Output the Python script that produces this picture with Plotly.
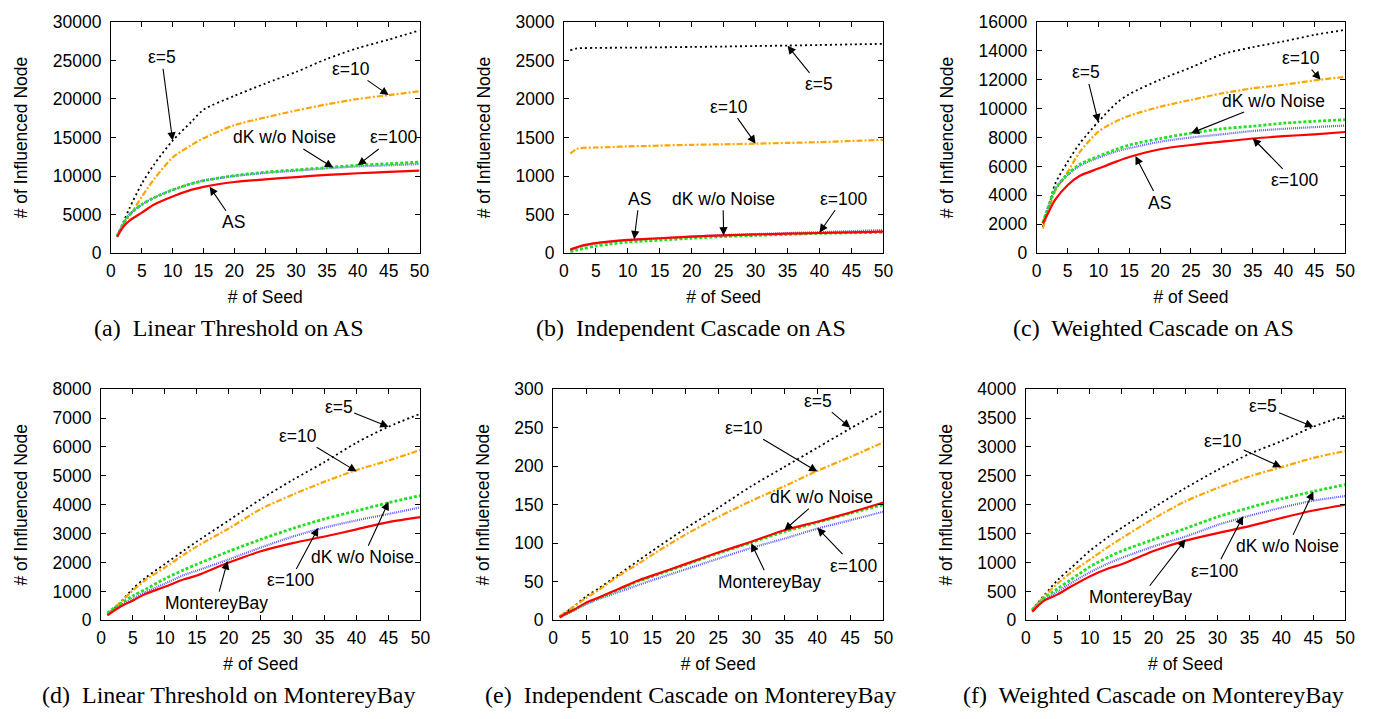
import plotly.graph_objects as go

# page is 1388x719; the html body keeps its default 8px margin,
# so the figure itself is 16px smaller and every page pixel is offset by 8.
PAGE_W, PAGE_H, OFF = 1388, 719, 8
W, H = PAGE_W - 2 * OFF, PAGE_H - 2 * OFF

# ---------------- data ----------------
SEEDS = [1, 2, 3, 5, 7, 10, 13, 15, 20, 25, 30, 35, 40, 45, 50]
X_TICKS = [0, 5, 10, 15, 20, 25, 30, 35, 40, 45, 50]

# (a) Linear Threshold on AS
LT_AS_EPS5 = [2200, 4000, 5800, 9000, 11500, 14600, 17000, 18600, 20400, 22000, 23500, 25200, 26600, 27700, 28900]
LT_AS_EPS10 = [2200, 3700, 4800, 7300, 9600, 12400, 14000, 14900, 16600, 17600, 18500, 19300, 20000, 20500, 21000]
LT_AS_EPS100 = [2200, 3800, 5000, 6300, 7200, 8200, 9000, 9400, 10000, 10400, 10700, 11000, 11250, 11400, 11550]
LT_AS_DK = [2200, 3800, 5000, 6300, 7200, 8200, 9000, 9400, 10050, 10500, 10800, 11100, 11400, 11600, 11800]
LT_AS_ORIG = [2100, 3400, 4200, 5250, 6300, 7350, 8200, 8600, 9230, 9570, 9860, 10150, 10360, 10530, 10700]

# (b) Independent Cascade on AS
IC_AS_EPS5 = [2630, 2655, 2660, 2662, 2664, 2666, 2668, 2670, 2675, 2680, 2687, 2693, 2700, 2708, 2715]
IC_AS_EPS10 = [1290, 1350, 1365, 1370, 1375, 1385, 1390, 1395, 1405, 1412, 1420, 1430, 1440, 1455, 1470]
IC_AS_EPS100 = [40, 70, 95, 125, 145, 168, 182, 192, 215, 233, 247, 260, 272, 285, 300]
IC_AS_DK = [20, 40, 60, 92, 115, 143, 158, 168, 193, 215, 230, 243, 256, 263, 270]
IC_AS_ORIG = [45, 75, 100, 130, 150, 172, 185, 193, 214, 231, 242, 252, 261, 270, 278]

# (c) Weighted Cascade on AS
WC_AS_EPS5 = [1800, 3300, 4800, 6300, 7600, 9100, 10400, 11000, 12000, 12850, 13750, 14250, 14650, 15100, 15450]
WC_AS_EPS10 = [1700, 3100, 4300, 5600, 7000, 8400, 9150, 9500, 10130, 10600, 11050, 11400, 11650, 11950, 12200]
WC_AS_EPS100 = [2100, 3350, 4450, 5400, 6050, 6600, 7050, 7260, 7710, 8000, 8220, 8450, 8600, 8720, 8830]
WC_AS_DK = [2100, 3350, 4450, 5450, 6150, 6700, 7200, 7480, 7930, 8300, 8600, 8780, 8990, 9120, 9230]
WC_AS_ORIG = [2050, 2900, 3700, 4700, 5350, 5850, 6350, 6650, 7190, 7480, 7710, 7930, 8090, 8220, 8380]

# (d) Linear Threshold on MontereyBay
LT_MB_EPS5 = [200, 400, 620, 1100, 1480, 1950, 2420, 2730, 3460, 4190, 4860, 5480, 6150, 6700, 7150]
LT_MB_EPS10 = [200, 400, 610, 1040, 1400, 1830, 2280, 2560, 3180, 3850, 4350, 4800, 5200, 5530, 5900]
LT_MB_EPS100 = [220, 380, 520, 760, 980, 1270, 1570, 1720, 2110, 2520, 2900, 3210, 3460, 3680, 3910]
LT_MB_DK = [250, 420, 570, 850, 1080, 1440, 1750, 1940, 2390, 2800, 3180, 3510, 3790, 4070, 4320]
LT_MB_ORIG = [170, 330, 470, 690, 920, 1160, 1420, 1550, 2000, 2390, 2670, 2900, 3150, 3400, 3570]

# (e) Independent Cascade on MontereyBay
IC_MB_EPS5 = [5, 11, 17, 31, 42, 60, 78, 90, 119, 146, 174, 199, 224, 249, 273]
IC_MB_EPS10 = [5, 11, 17, 29, 40, 58, 74, 85, 111, 134, 155, 174, 194, 212, 231]
IC_MB_EPS100 = [4, 8, 12, 21, 28, 37, 46, 52, 66, 80, 94, 106, 119, 130, 141]
IC_MB_DK = [4, 9, 13, 22, 29, 40, 51, 57, 72, 87, 101, 115, 127, 139, 150]
IC_MB_ORIG = [4, 9, 13, 23, 30, 41, 52, 58, 73, 88, 102, 117, 128, 140, 153]

# (f) Weighted Cascade on MontereyBay
WC_MB_EPS5 = [180, 320, 450, 700, 900, 1200, 1450, 1600, 1950, 2290, 2600, 2880, 3100, 3350, 3540]
WC_MB_EPS10 = [180, 310, 430, 640, 820, 1050, 1280, 1420, 1760, 2060, 2290, 2490, 2650, 2810, 2930]
WC_MB_EPS100 = [170, 280, 370, 495, 640, 830, 990, 1080, 1280, 1450, 1650, 1810, 1950, 2070, 2150]
WC_MB_DK = [180, 300, 400, 550, 700, 925, 1100, 1200, 1400, 1590, 1790, 1950, 2100, 2230, 2350]
WC_MB_ORIG = [150, 260, 350, 450, 580, 760, 900, 970, 1200, 1380, 1510, 1630, 1770, 1900, 2000]

CAPTIONS = [
    "(a)  Linear Threshold on AS",
    "(b)  Independent Cascade on AS",
    "(c)  Weighted Cascade on AS",
    "(d)  Linear Threshold on MontereyBay",
    "(e)  Independent Cascade on MontereyBay",
    "(f)  Weighted Cascade on MontereyBay",
]
NETWORKS = ["AS", "AS", "AS", "MontereyBay", "MontereyBay", "MontereyBay"]
Y_MAX = [30000, 3000, 16000, 8000, 300, 4000]
Y_STEP = [5000, 500, 2000, 1000, 50, 500]

PANELS = [
    [LT_AS_EPS5, LT_AS_EPS10, LT_AS_EPS100, LT_AS_DK, LT_AS_ORIG],
    [IC_AS_EPS5, IC_AS_EPS10, IC_AS_EPS100, IC_AS_DK, IC_AS_ORIG],
    [WC_AS_EPS5, WC_AS_EPS10, WC_AS_EPS100, WC_AS_DK, WC_AS_ORIG],
    [LT_MB_EPS5, LT_MB_EPS10, LT_MB_EPS100, LT_MB_DK, LT_MB_ORIG],
    [IC_MB_EPS5, IC_MB_EPS10, IC_MB_EPS100, IC_MB_DK, IC_MB_ORIG],
    [WC_MB_EPS5, WC_MB_EPS10, WC_MB_EPS100, WC_MB_DK, WC_MB_ORIG],
]

# label annotations: (text, tip_x, tip_y, text_x, text_y)
LABELS = [
    [("ε=5", 10, 14600, 8.2, 25400), ("ε=10", 45, 20500, 38.9, 23900),
     ("dK w/o Noise", 36, 11100, 28.2, 15000), ("ε=100", 40, 11400, 45.8, 15000),
     ("AS", 16, 8600, 19.9, 4000)],
    [("ε=5", 35, 2690, 39.9, 2190), ("ε=10", 30, 1420, 25.9, 1900),
     ("AS", 11, 180, 11.8, 706), ("dK w/o Noise", 25, 230, 24.9, 706),
     ("ε=100", 40, 268, 43.7, 706)],
    [("ε=5", 10, 9050, 8.0, 12500), ("ε=10", 46, 12000, 42.9, 13500),
     ("dK w/o Noise", 25, 8300, 38.3, 10560), ("ε=100", 35, 7950, 41.7, 5040),
     ("AS", 16, 6720, 19.9, 3500)],
    [("ε=5", 45, 6700, 37.2, 7390), ("ε=10", 40, 5150, 30.8, 6390),
     ("dK w/o Noise", 45, 4100, 41.0, 2180), ("ε=100", 34, 3200, 29.6, 1380),
     ("MontereyBay", 19.8, 2050, 18.0, 600)],
    [("ε=5", 45, 250, 40.1, 285), ("ε=10", 40, 193, 28.9, 250),
     ("dK w/o Noise", 35, 117, 40.7, 160), ("ε=100", 40, 120, 45.5, 71),
     ("MontereyBay", 30, 100, 32.8, 50)],
    [("ε=5", 45, 3350, 37.2, 3700), ("ε=10", 40, 2650, 30.9, 3110),
     ("dK w/o Noise", 45, 2230, 41.0, 1280), ("ε=100", 34, 1800, 29.6, 860),
     ("MontereyBay", 25, 1400, 18.0, 400)],
]

# ---------------- styles / geometry ----------------
SERIES_STYLE = [
    dict(color="black", width=1.8, dash="2px,3px"),
    dict(color="#FFA500", width=2.2, dash="6px,2px,2px,2px"),
    dict(color="#5a5aff", width=2.2, dash="1px,1px"),
    dict(color="#22e022", width=2.8, dash="3px,2px"),
    dict(color="#ff0000", width=2.2),
]
# plot boxes in page pixels: (left, right, top, bottom)
BOXES = [
    (107, 419, 12, 250), (565, 888, 12, 250), (1043, 1355, 12, 250),
    (97, 420, 390, 628), (554, 888, 390, 628), (1032, 1355, 390, 628),
]
CAPTION_POS = [(226, 327), (693, 327), (1161, 327), (226, 705), (693, 705), (1161, 705)]


def px_x(p):
    return (p - OFF) / W


def px_y(p):
    return 1 - (p - OFF) / H


SANS = "Liberation Sans, Arial, sans-serif"
SERIF = "Liberation Serif, Times New Roman, serif"
FS = 17.5

fig = go.Figure()
annotations = []
layout = {}

for i, series in enumerate(PANELS):
    n = "" if i == 0 else str(i + 1)
    xa, ya = "x" + n, "y" + n
    l, r, t, b = BOXES[i]
    names = ["ε=5", "ε=10", "ε=100", "dK w/o Noise", NETWORKS[i]]
    for k, vals in enumerate(series):
        fig.add_trace(go.Scatter(
            x=SEEDS, y=vals, mode="lines", name=names[k],
            line=dict(shape="spline", smoothing=0.8, **SERIES_STYLE[k]),
            xaxis=xa, yaxis=ya, showlegend=False, hoverinfo="x+y+name",
        ))
    common = dict(
        showline=True, linecolor="black", linewidth=1, mirror="ticks",
        ticks="inside", ticklen=5, tickcolor="black", tickwidth=1,
        showgrid=False, zeroline=False,
        tickfont=dict(family=SANS, size=FS, color="black"),
    )
    layout["xaxis" + n] = dict(
        domain=[px_x(l), px_x(r)], anchor=ya, range=[0, 50],
        tickmode="array", tickvals=X_TICKS, ticklabelstandoff=2,
        title=dict(text="# of Seed", font=dict(family=SANS, size=FS, color="black"), standoff=10),
        **common)
    layout["yaxis" + n] = dict(
        domain=[px_y(b), px_y(t)], anchor=xa, range=[0, Y_MAX[i]],
        tickmode="linear", tick0=0, dtick=Y_STEP[i], tickformat="d",
        ticklabelstandoff=5,
        title=dict(text="# of Influenced Node", font=dict(family=SANS, size=FS, color="black"), standoff=20),
        **common)
    for (txt, tx, ty, lx, ly) in LABELS[i]:
        annotations.append(dict(
            x=tx, y=ty, xref=xa, yref=ya, ax=lx, ay=ly, axref=xa, ayref=ya,
            text=txt, showarrow=True, arrowhead=2, arrowsize=1.5, arrowwidth=1.1,
            arrowcolor="black", standoff=0, startstandoff=0,
            font=dict(family=SANS, size=FS, color="black"),
        ))
    cx, cy = CAPTION_POS[i]
    annotations.append(dict(
        x=px_x(cx), y=px_y(cy), xref="paper", yref="paper", showarrow=False,
        text=CAPTIONS[i], xanchor="center", yanchor="middle",
        font=dict(family=SERIF, size=24, color="black"),
    ))

fig.update_layout(
    width=W, height=H, margin=dict(l=0, r=0, t=0, b=0),
    paper_bgcolor="white", plot_bgcolor="white",
    annotations=annotations, **layout,
)
fig.write_html("out.html", config={"displayModeBar": False})
